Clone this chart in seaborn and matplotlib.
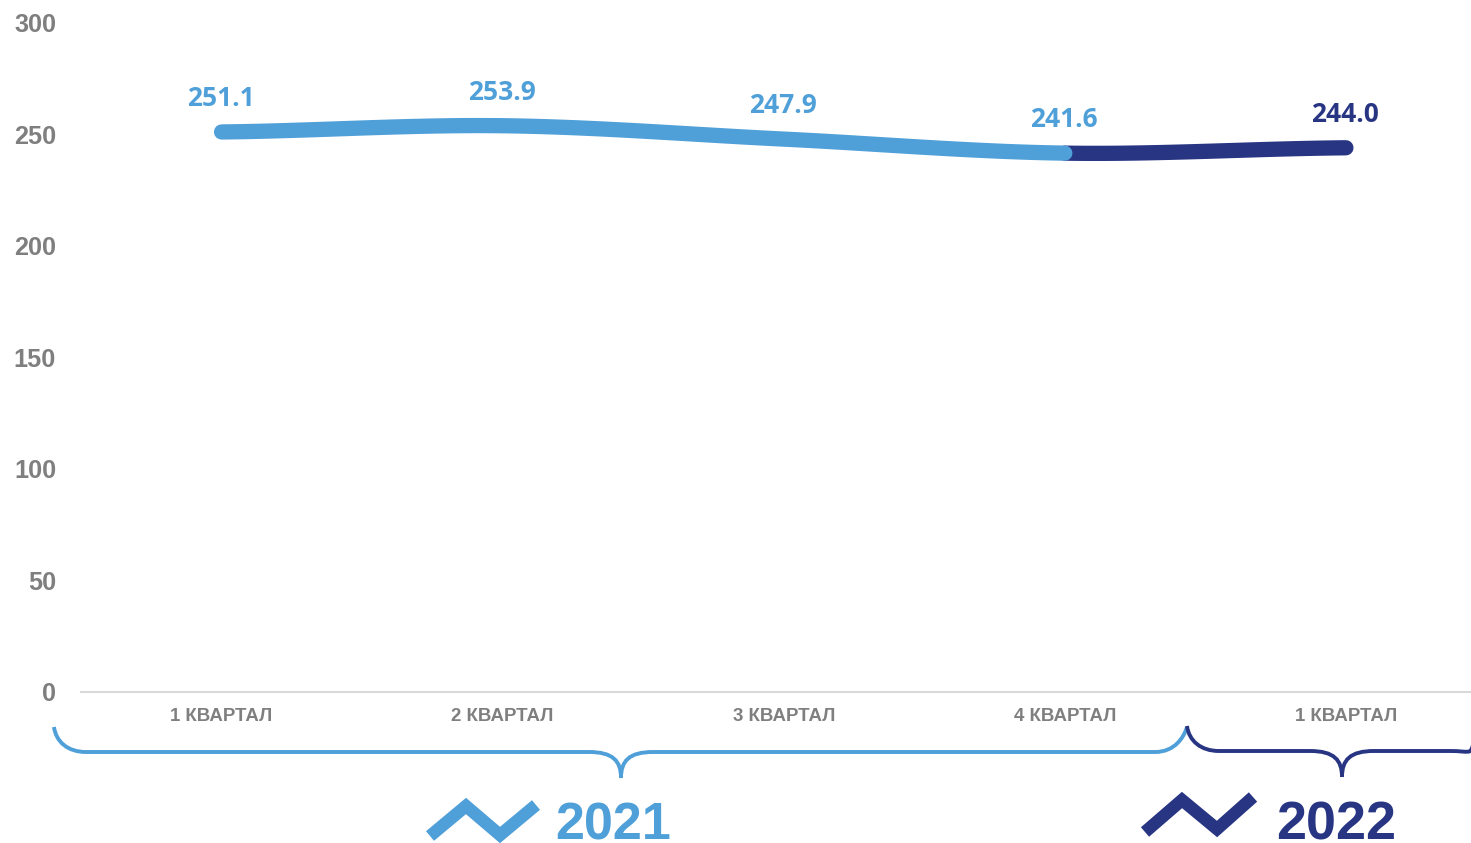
import numpy as np
import pandas as pd
import matplotlib
matplotlib.use("Agg")
import matplotlib.pyplot as plt
from matplotlib.path import Path
from matplotlib.patches import PathPatch
import seaborn as sns

W, H = 1471, 843

quarters = ["1 КВАРТАЛ", "2 КВАРТАЛ", "3 КВАРТАЛ", "4 КВАРТАЛ", "1 КВАРТАЛ"]
values = [251.1, 253.9, 247.9, 241.6, 244.0]
labels = ["251.1", "253.9", "247.9", "241.6", "244.0"]
yticks = [0, 50, 100, 150, 200, 250, 300]

LIGHT = "#4F9FD8"
DARK = "#283583"
GRAY = "#7F7F7F"
LIGHT_END = 3  # last quarter of 2021


def smooth(y, per=40):
    # same kind of curve as a spreadsheet "smoothed line"
    y = np.asarray(y, dtype=float)
    xs, ys = [], []
    for i in range(len(y) - 1):
        a = y[max(i - 1, 0)]
        b = y[min(i + 2, len(y) - 1)]
        c1 = y[i] + (y[i + 1] - a) / 6
        c2 = y[i + 1] - (b - y[i]) / 6
        t = np.linspace(0, 1, per)
        xs.append(i + t)
        ys.append((1 - t)**3 * y[i] + 3 * (1 - t)**2 * t * c1
                  + 3 * (1 - t) * t**2 * c2 + t**3 * y[i + 1])
    return np.concatenate(xs), np.concatenate(ys)


sns.set_style("white")
plt.rcParams["font.family"] = ["Liberation Sans", "DejaVu Sans"]

fig = plt.figure(figsize=(W / 100, H / 100), dpi=100)
ax = fig.add_axes([81 / W, 1 - 691.5 / H, (W - 81) / W, (691.5 - 23) / H])

cx, cy = smooth(values)
curve = pd.DataFrame({"x": cx, "y": cy})
sns.lineplot(data=curve[curve.x >= LIGHT_END], x="x", y="y", color=DARK, linewidth=11,
             solid_capstyle="round", estimator=None, sort=False, ax=ax)
sns.lineplot(data=curve[curve.x <= LIGHT_END], x="x", y="y", color=LIGHT, linewidth=11,
             solid_capstyle="round", estimator=None, sort=False, ax=ax)

ax.set_xlim(-0.5, 4.445)
ax.set_ylim(0, 300)
ax.set_xlabel("")
ax.set_ylabel("")
ax.set_xticks(range(len(quarters)))
ax.set_xticklabels(quarters, fontsize=13.4, fontweight="bold", color=GRAY)
ax.set_yticks(yticks)
ax.set_yticklabels(yticks, fontsize=18.2, fontweight="bold", color=GRAY)
ax.tick_params(axis="x", length=0, pad=12)
ax.tick_params(axis="y", length=0, pad=18)
sns.despine(ax=ax, left=True)
ax.spines["bottom"].set_color("#D9D9D9")
ax.spines["bottom"].set_linewidth(1.5)
ax.patch.set_alpha(0)

for i, (v, s) in enumerate(zip(values, labels)):
    ax.annotate(s, (i, v), xytext=(-0.5, 24), textcoords="offset points", ha="center", va="center",
                fontsize=19, fontweight="bold", family="Open Sans", color=DARK if i > LIGHT_END else LIGHT)

# overlay in pixel coordinates for braces, zigzags and year captions
ov = fig.add_axes([0, 0, 1, 1])
ov.set_xlim(0, W)
ov.set_ylim(H, 0)
ov.axis("off")


def brace(x0, y0, x1, xm, y, tip, x2, y2, color):
    r = 32
    verts = [(x0, y0), (x0 + 2, y - 10), (x0 + 14, y), (x0 + r, y),
             (xm - r, y), (xm - 8, y), (xm, y + 9), (xm, tip),
             (xm, y + 9), (xm + 8, y), (xm + r, y),
             (x1, y), (x1 + 20, y), (x2 - 3, y2 + 10), (x2, y2)]
    codes = [Path.MOVETO, Path.CURVE4, Path.CURVE4, Path.CURVE4,
             Path.LINETO, Path.CURVE4, Path.CURVE4, Path.CURVE4,
             Path.CURVE4, Path.CURVE4, Path.CURVE4,
             Path.LINETO, Path.CURVE4, Path.CURVE4, Path.CURVE4]
    ov.add_patch(PathPatch(Path(verts, codes), fill=False, edgecolor=color, linewidth=2.8, capstyle="butt"))


brace(54, 727, 1155, 621, 752, 778, 1187, 727, LIGHT)
brace(1187, 726, 1450, 1342, 751, 777, 1473, 745, DARK)

ov.plot([430, 466, 500, 536], [836, 806, 835, 805], color=LIGHT, linewidth=9, solid_joinstyle="miter",
        solid_capstyle="butt")
ov.plot([1145, 1182, 1217, 1253], [832, 800, 829, 797], color=DARK, linewidth=9, solid_joinstyle="miter",
        solid_capstyle="butt")
ov.text(613, 839, "2021", color=LIGHT, fontsize=37.5, fontweight="bold", ha="center", va="baseline")
ov.text(1336, 839, "2022", color=DARK, fontsize=38.8, fontweight="bold", ha="center", va="baseline")

fig.savefig("out.png", dpi=100)
